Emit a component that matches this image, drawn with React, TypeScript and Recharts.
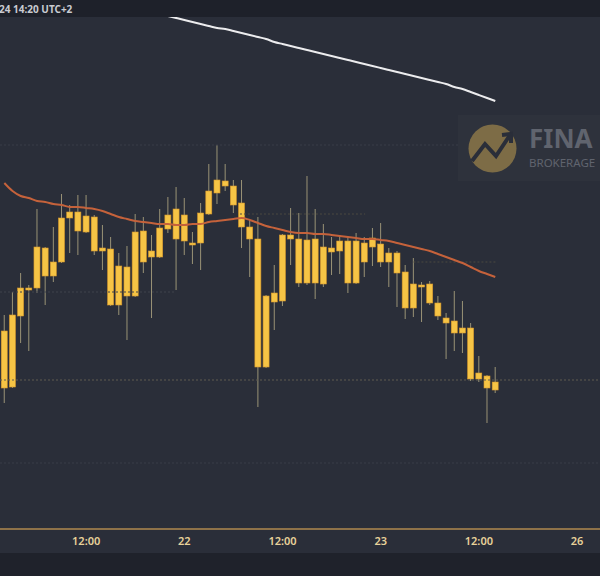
import React from 'react';
import { ComposedChart, Bar, Line, XAxis, YAxis, ReferenceLine } from 'recharts';

// hourly candles, 21st 02:00 -> 23rd 14:00 (t = hours since 21st 00:00)
const opens = [
  2011.2, 2011.3, 2018.4, 2021.0, 2021.2, 2025.2, 2022.4, 2023.8, 2028.2, 2028.8,
  2026.8, 2028.3, 2024.9, 2025.1, 2019.5, 2023.3, 2020.4, 2026.9, 2024.3, 2024.3,
  2027.1, 2026.1, 2028.5, 2025.7, 2025.7, 2028.6, 2030.7, 2031.9, 2031.4, 2029.7,
  2027.3, 2026.1, 2013.3, 2019.8, 2019.9, 2026.5, 2026.1, 2021.7, 2026.1, 2021.6,
  2025.2, 2024.9, 2025.9, 2021.7, 2025.7, 2025.3, 2025.6, 2023.8, 2024.7, 2022.8,
  2019.2, 2021.5, 2021.6, 2019.7, 2018.2, 2017.9, 2016.7, 2017.2, 2012.1, 2012.4,
  2011.0,
];
const highs = [
  2018.5, 2020.8, 2022.7, 2021.5, 2029.1, 2025.3, 2027.3, 2030.6, 2029.5, 2030.5,
  2030.5, 2028.5, 2027.5, 2026.3, 2024.7, 2025.4, 2028.6, 2028.3, 2026.5, 2029.1,
  2030.3, 2031.3, 2030.2, 2026.8, 2029.7, 2033.6, 2035.5, 2033.6, 2032.0, 2032.0,
  2028.0, 2028.3, 2020.5, 2023.5, 2026.6, 2029.2, 2028.7, 2032.4, 2029.1, 2027.6,
  2026.3, 2026.5, 2026.3, 2026.7, 2026.3, 2027.2, 2027.7, 2025.2, 2024.9, 2023.5,
  2024.2, 2021.8, 2021.9, 2020.4, 2018.7, 2020.9, 2019.9, 2017.7, 2014.4, 2012.5,
  2013.3,
];
const lows = [
  2009.7, 2011.2, 2015.7, 2014.9, 2020.7, 2019.5, 2021.8, 2023.7, 2024.7, 2024.5,
  2026.7, 2024.5, 2023.0, 2019.4, 2018.5, 2016.0, 2020.3, 2022.7, 2018.2, 2024.2,
  2026.7, 2021.0, 2024.5, 2023.6, 2023.0, 2028.5, 2029.6, 2030.9, 2028.7, 2025.2,
  2022.3, 2009.3, 2013.2, 2017.0, 2019.4, 2023.5, 2021.3, 2021.5, 2020.1, 2021.3,
  2022.5, 2022.6, 2020.7, 2021.6, 2022.3, 2023.4, 2023.3, 2021.3, 2019.3, 2018.1,
  2018.3, 2017.8, 2019.5, 2018.0, 2014.1, 2014.9, 2014.7, 2011.9, 2011.8, 2007.7,
  2010.7,
];
const closes = [
  2016.9, 2018.5, 2021.2, 2021.2, 2025.3, 2022.4, 2023.8, 2028.2, 2028.8, 2026.9,
  2028.4, 2024.9, 2025.2, 2019.5, 2023.4, 2020.4, 2026.8, 2023.8, 2024.9, 2027.2,
  2028.5, 2029.1, 2025.9, 2025.5, 2028.7, 2030.9, 2032.0, 2031.4, 2029.5, 2027.3,
  2026.1, 2013.3, 2020.4, 2020.7, 2026.5, 2026.1, 2021.7, 2026.0, 2021.7, 2025.3,
  2024.8, 2025.9, 2021.7, 2025.9, 2023.8, 2026.2, 2023.8, 2024.7, 2022.7, 2019.2,
  2021.6, 2021.3, 2019.7, 2018.4, 2017.7, 2016.7, 2017.2, 2012.1, 2012.7, 2011.2,
  2011.8,
];
const maFast = [
  2031.7, 2030.9, 2030.4, 2030.2, 2029.9, 2029.8, 2029.6, 2029.5, 2029.3, 2029.3,
  2029.2, 2029.1, 2028.9, 2028.6, 2028.3, 2028.1, 2027.9, 2027.8, 2027.7, 2027.6,
  2027.6, 2027.5, 2027.5, 2027.6, 2027.6, 2027.8, 2027.9, 2028.0, 2028.1, 2028.2,
  2028.0, 2027.7, 2027.4, 2027.2, 2027.0, 2026.8, 2026.7, 2026.7, 2026.6, 2026.6,
  2026.5, 2026.4, 2026.3, 2026.2, 2026.1, 2026.1, 2026.0, 2025.9, 2025.7, 2025.5,
  2025.3, 2025.1, 2024.9, 2024.6, 2024.3, 2024.0, 2023.7, 2023.3, 2022.9, 2022.6,
  2022.3,
];
const maSlow = [
  null, null, null, null, null, null, null, null, null, null,
  null, null, null, null, null, null, null, null, null, 2048.6,
  2048.4, 2048.2, 2048.0, 2047.8, 2047.6, 2047.4, 2047.2, 2047.1, 2046.9, 2046.7,
  2046.5, 2046.3, 2046.1, 2045.8, 2045.6, 2045.4, 2045.2, 2045.0, 2044.8, 2044.6,
  2044.4, 2044.2, 2044.0, 2043.8, 2043.6, 2043.4, 2043.2, 2043.0, 2042.8, 2042.6,
  2042.4, 2042.2, 2042.0, 2041.8, 2041.6, 2041.3, 2041.1, 2040.8, 2040.5, 2040.2,
  2039.9,
];

const tickHours = [12, 24, 36, 48, 60, 72];
const tickLabels = ['12:00', '22', '12:00', '23', '12:00', '26'];

const data = opens.map((o, i) => ({
  t: i + 2,
  open: o,
  high: highs[i],
  low: lows[i],
  close: closes[i],
  range: [lows[i], highs[i]],
  maFast: maFast[i],
  maSlow: maSlow[i],
}));

const Candle = (props: any) => {
  const { x, width, payload } = props;
  let { y, height } = props;
  if (height < 0) {
    y += height;
    height = -height;
  }
  const { open, close, high, low } = payload;
  const ratio = high - low > 0 ? height / (high - low) : 0;
  const cx = x + width / 2;
  const top = y + (high - Math.max(open, close)) * ratio;
  const bottom = y + (high - Math.min(open, close)) * ratio;
  const bodyH = Math.max(bottom - top, 1.6);
  return (
    <g>
      <line x1={cx} x2={cx} y1={y} y2={y + height} stroke="#9a9376" strokeWidth={1} />
      <rect x={cx - 3} y={top} width={6} height={bodyH} fill="#f6c445" stroke="#d8982c" strokeWidth={0.6} />
    </g>
  );
};

export default function App() {
  return (
    <div style={{ position: 'relative', width: 600, height: 576, background: '#2a2e39', overflow: 'hidden' }}>
      <style>{'body{margin:0}'}</style>
      <ComposedChart width={600} height={553} data={data} margin={{ top: 0, right: 0, bottom: 0, left: 0 }}>
        <XAxis
          type="number"
          dataKey="t"
          domain={[1.47, 74.8]}
          allowDataOverflow
          ticks={tickHours}
          interval={0}
          tickFormatter={(v: number) => tickLabels[tickHours.indexOf(v)]}
          height={24}
          axisLine={{ stroke: '#b08a4f', strokeWidth: 1.5 }}
          tickLine={false}
          tick={{ fill: '#e8d29a', fontSize: 11, fontWeight: 600, fontFamily: 'Noto Sans' }}
        />
        <YAxis hide domain={[1997.1, 2050]} allowDataOverflow />
        <ReferenceLine y={2035.5} stroke="#393d48" strokeDasharray="2 2" />
        <ReferenceLine y={2003.7} stroke="#393d48" strokeDasharray="2 2" />
        <ReferenceLine segment={[{ x: 1.47, y: 2020.8 }, { x: 22.9, y: 2020.8 }]} stroke="#3f434d" strokeDasharray="2 2" />
        <ReferenceLine segment={[{ x: 30.8, y: 2028.6 }, { x: 46.1, y: 2028.6 }]} stroke="#4a4840" strokeDasharray="2 2" />
        <ReferenceLine segment={[{ x: 52, y: 2023.8 }, { x: 62.2, y: 2023.8 }]} stroke="#4a4840" strokeDasharray="2 2" />
        <ReferenceLine y={2012.0} stroke="#5f5a50" strokeDasharray="2 2" />
        <Bar dataKey="range" barSize={6} shape={<Candle />} isAnimationActive={false} />
        <Line type="monotone" dataKey="maFast" stroke="#c5623b" strokeWidth={2} dot={false} isAnimationActive={false} />
        <Line type="monotone" dataKey="maSlow" stroke="#ececee" strokeWidth={2} dot={false} isAnimationActive={false} />
      </ComposedChart>

      <div style={{ position: 'absolute', left: 0, top: 0, width: 600, height: 17, background: '#1e212a' }}>
        <span style={{ position: 'absolute', left: -1, top: 2, fontSize: 10, fontWeight: 700, color: '#c9cbd1', fontFamily: 'Noto Sans' }}>
          24 14:20 UTC+2
        </span>
      </div>

      <svg style={{ position: 'absolute', left: 458, top: 115 }} width={142} height={66}>
        <rect x={0} y={0} width={142} height={66} fill="#2e323c" />
        <circle cx={34.5} cy={33.5} r={24} fill="#7d6c46" />
        <polyline points="14,46 27,29 38,41 52,20" fill="none" stroke="#2a2e39" strokeWidth={4} />
        <polyline points="44,20 53,19 53,28" fill="none" stroke="#2a2e39" strokeWidth={4} />
        <text x={71} y={33} fontSize={26} fontWeight={700} fill="#60646e" fontFamily="Noto Sans">FINA</text>
        <text x={71} y={52} fontSize={11.5} fill="#60646e" fontFamily="Noto Sans">BROKERAGE</text>
      </svg>

      <div style={{ position: 'absolute', left: 0, top: 553, width: 600, height: 23, background: '#1f222b' }} />
    </div>
  );
}
